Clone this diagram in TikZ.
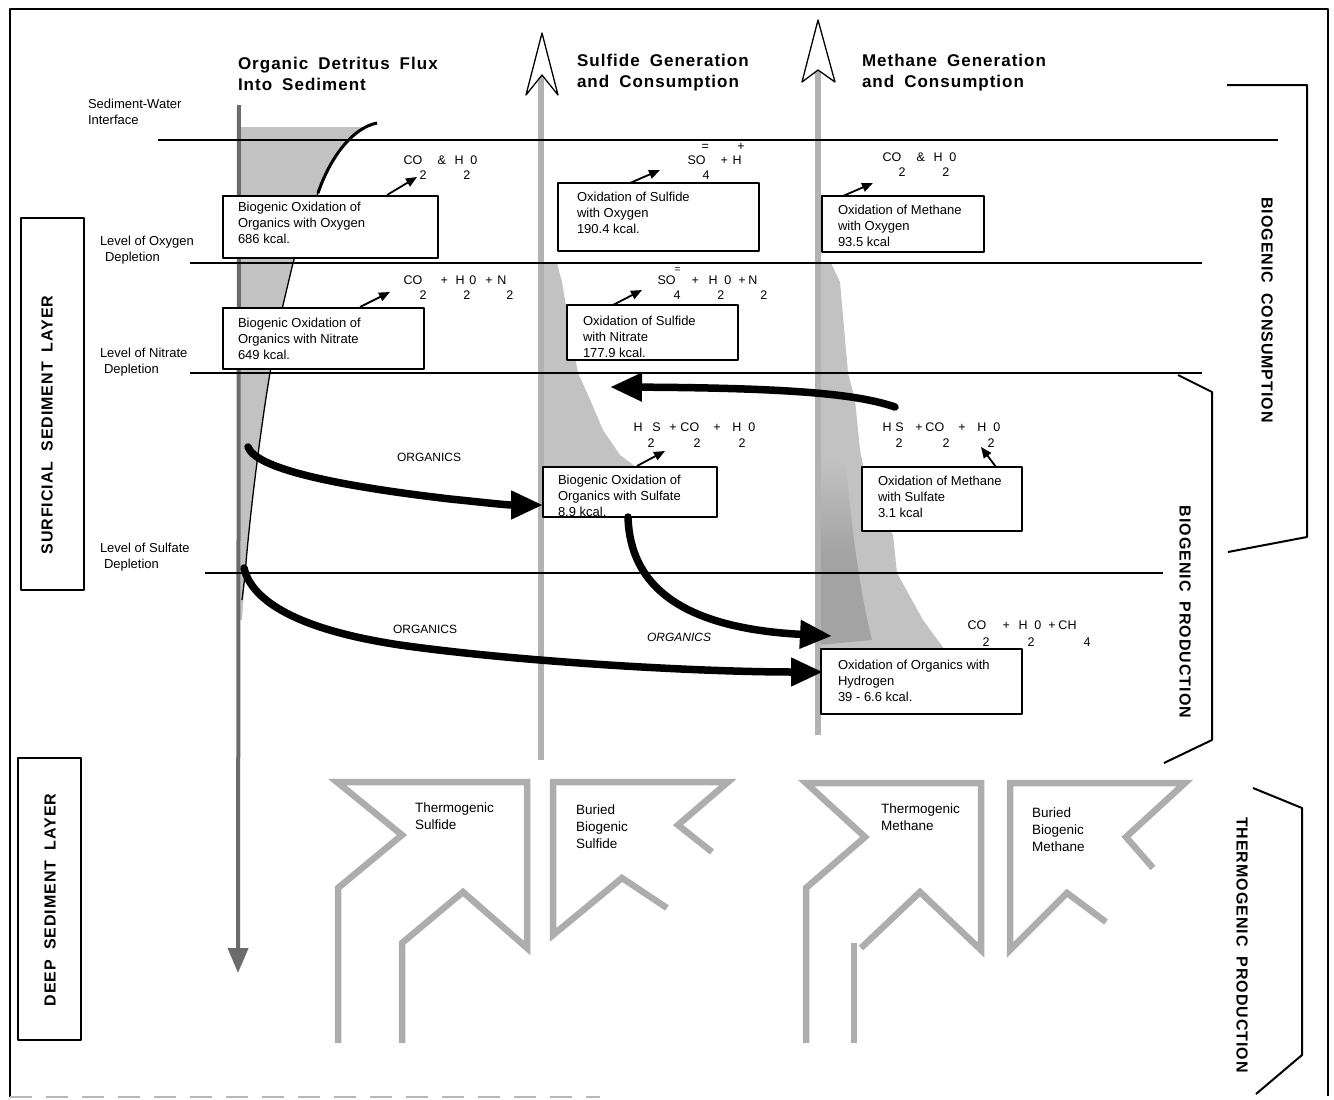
\documentclass[tikz,border=0pt]{standalone}
\usepackage{fontspec}
\setmainfont{Liberation Sans}
\newfontfamily\tfont[LetterSpace=6]{Liberation Sans}
\usetikzlibrary{arrows.meta}
\definecolor{shadec}{gray}{0.76}
\definecolor{barc}{gray}{0.70}
\definecolor{flagc}{gray}{0.68}
\definecolor{darkc}{gray}{0.42}
\definecolor{densec}{gray}{0.64}
\newcommand\tk[3]{\makebox[0pt][l]{\hspace*{#1pt}\raisebox{#2pt}{#3}}}
\newcommand\wg{\hspace{10pt}}
\begin{document}
\begin{tikzpicture}[x=1pt,y=-1pt,line join=round,
  every node/.style={inner sep=0pt,outer sep=0pt},
  lbl/.style={font=\fontsize{13}{16}\selectfont,align=left,anchor=north west},
  boxtxt/.style={font=\fontsize{13}{16}\selectfont,align=left,anchor=north west},
  flagtxt/.style={font=\fontsize{13.5}{17}\selectfont,align=left,anchor=north west},
  rbox/.style={draw=black,line width=1.4pt,fill=white,anchor=north west},
  sidebox/.style={draw=black,line width=2pt,anchor=north west},
  title/.style={font=\tfont\bfseries\fontsize{17}{21.5}\selectfont,align=left,anchor=north west},
  vtitle/.style={font=\tfont\bfseries\fontsize{16}{18}\selectfont},
  formula/.style={font=\fontsize{12.5}{14}\selectfont,anchor=base west},
  orgl/.style={font=\fontsize{12}{14}\selectfont,anchor=west},
  sarr/.style={line width=1.8pt,-{Triangle[length=11pt,width=9pt]}},
  big/.style={line width=7.5pt,line cap=round,-{Triangle[length=32pt,width=27pt]}},
  lev/.style={line width=1.3pt},
  brace/.style={line width=2pt},
  bar/.style={barc,line width=6pt},
  flag/.style={flagc,line width=6.5pt,line join=miter}]
\useasboundingbox (0,0) rectangle (1334,1100);

% ---------- shaded distributions ----------
\fill[shadec] (237,127) -- (368,127) .. controls (352,133) and (330,158) .. (318,193)
  -- (300,240) -- (293,263) -- (283,305) -- (270,373)
  .. controls (262,420) and (250,510) .. (245,575) -- (242,620) -- (237,620) -- cycle;
\fill[shadec] (541,263) -- (557,263) -- (562,282) -- (570,330) -- (578,373) -- (588,395)
  -- (603,430) -- (620,455) -- (640,470) -- (640,490) -- (541,490) -- cycle;
\fill[shadec] (818,263) -- (831,263) -- (840,282) -- (848,373) -- (855,400) -- (860,450)
  -- (866,480) -- (878,510) -- (893,535) -- (897,573) -- (923,620) -- (945,650)
  -- (945,680) -- (818,680) -- cycle;
\shade[top color=shadec,bottom color=densec,middle color=densec]
  (818,460) -- (846,460) .. controls (852,540) and (862,600) .. (872,640) -- (818,645) -- cycle;

% ---------- vertical bars with open arrowheads ----------
\coordinate (sbot) at (541,760); \coordinate (stop) at (541,75);
\coordinate (mbot) at (818,735); \coordinate (mtop) at (818,70);
\draw[bar] (sbot) -- (stop);
\draw[bar] (mbot) -- (mtop);
\filldraw[fill=white,line width=1.3pt] (542,33) -- (558,95) -- (542,75) -- (526,95) -- cycle;
\filldraw[fill=white,line width=1.3pt] (818,20) -- (835,82) -- (818,70) -- (802,82) -- cycle;

% ---------- organic detritus flux ----------
\coordinate (orgtop) at (239,105); \coordinate (orgbot) at (238,973);
\draw[darkc,line width=4pt,-{Triangle[length=25pt,width=20pt]}] (orgtop) -- (orgbot);
\draw[line width=3pt] (377,123) .. controls (352,128) and (330,158) .. (318,193);
\draw[line width=1.3pt] (318,193) -- (300,240) -- (293,263) -- (283,305) -- (270,373)
  .. controls (262,420) and (250,510) .. (245,575) -- (242,600);

% ---------- level lines ----------
\draw[line width=2.6pt] (158,140) -- (1278,140);
\draw[lev] (190,263) -- (1202,263);
\draw[lev] (190,373) -- (1202,373);
\draw[lev] (205,573) -- (1163,573);

% ---------- titles ----------
\node[title] (t-org) at (238,57) {Organic\wg Detritus\wg Flux\\Into\wg Sediment};
\node[title] (t-sul) at (577,54) {Sulfide\wg Generation\\and\wg Consumption};
\node[title] (t-met) at (862,54) {Methane\wg Generation\\and\wg Consumption};

% ---------- left labels ----------
\node[lbl] (l-swi) at (88,99.5) {Sediment-Water\\Interface};
\node[lbl] (l-oxy) at (100,236.5) {Level of Oxygen\\\hspace*{5pt}Depletion};
\node[lbl] (l-nit) at (100,348.5) {Level of Nitrate\\\hspace*{4pt}Depletion};
\node[lbl] (l-sul) at (100,543.5) {Level of Sulfate\\\hspace*{4pt}Depletion};

\node[sidebox,minimum width=63pt,minimum height=372pt] (surfbox) at (21,218) {};
\node[vtitle,rotate=90] (surf) at (47,425) {SURFICIAL\wg SEDIMENT\wg LAYER};
\node[sidebox,minimum width=63pt,minimum height=282pt] (deepbox) at (18,758) {};
\node[vtitle,rotate=90] (deep) at (50,900) {DEEP\wg SEDIMENT\wg LAYER};

% ---------- reaction boxes ----------
\node[rbox,minimum width=215pt,minimum height=62pt] (b1) at (223,196) {};
\node[boxtxt] (t1) at (238,202.5) {Biogenic Oxidation of\\Organics with Oxygen\\686 kcal.};
\node[rbox,minimum width=201pt,minimum height=68pt] (b2) at (558,183) {};
\node[boxtxt] (t2) at (577,192.5) {Oxidation of Sulfide\\with Oxygen\\190.4 kcal.};
\node[rbox,minimum width=162pt,minimum height=56pt] (b3) at (822,196) {};
\node[boxtxt] (t3) at (838,205.5) {Oxidation of Methane\\with Oxygen\\93.5 kcal};
\node[rbox,minimum width=201pt,minimum height=61pt] (b4) at (223,308) {};
\node[boxtxt] (t4) at (238,318.5) {Biogenic Oxidation of\\Organics with Nitrate\\649 kcal.};
\node[rbox,minimum width=171pt,minimum height=55pt] (b5) at (567,305) {};
\node[boxtxt] (t5) at (583,316.5) {Oxidation of Sulfide\\with Nitrate\\177.9 kcal.};
\node[rbox,minimum width=174pt,minimum height=50pt] (b6) at (543,467) {};
\node[boxtxt] (t6) at (558,475.5) {Biogenic Oxidation of\\Organics with Sulfate\\8.9 kcal.};
\node[rbox,minimum width=160pt,minimum height=64pt] (b7) at (862,467) {};
\node[boxtxt] (t7) at (878,476.5) {Oxidation of Methane\\with Sulfate\\3.1 kcal};
\node[rbox,minimum width=201pt,minimum height=65pt] (b8) at (821,649) {};
\node[boxtxt] (t8) at (838,660.5) {Oxidation of Organics with\\Hydrogen\\39 - 6.6 kcal.};

% ---------- formulas ----------
\node[formula] (f1) at (403,164.3) {\tk{0}{0}{CO}\tk{34}{0}{\&}\tk{51}{0}{H}\tk{67}{0}{0}\tk{16}{-15}{2}\tk{60}{-15}{2}};
\node[formula] (f2) at (687,164.3) {\tk{0}{0}{SO}\tk{33}{0}{+}\tk{45}{0}{H}\tk{14}{14}{=}\tk{50}{14}{+}\tk{15}{-15}{4}};
\node[formula] (f3) at (882,161.3) {\tk{0}{0}{CO}\tk{34}{0}{\&}\tk{51}{0}{H}\tk{67}{0}{0}\tk{16}{-15}{2}\tk{60}{-15}{2}};
\node[formula] (f4) at (403,284.3) {\tk{0}{0}{CO}\tk{37}{0}{+}\tk{52}{0}{H}\tk{66}{0}{0}\tk{82}{0}{+}\tk{94}{0}{N}\tk{16}{-15}{2}\tk{60}{-15}{2}\tk{103}{-15}{2}};
\node[formula] (f5) at (657,284.3) {\tk{0}{0}{SO}\tk{17}{12}{\fontsize{10}{10}\selectfont =}\tk{34}{0}{+}\tk{51}{0}{H}\tk{67}{0}{0}\tk{81}{0}{+}\tk{91}{0}{N}\tk{16}{-15}{4}\tk{60}{-15}{2}\tk{103}{-15}{2}};
\node[formula] (f6) at (633,431.3) {\tk{0}{0}{H}\tk{19}{0}{S}\tk{36}{0}{+}\tk{47}{0}{CO}\tk{80}{0}{+}\tk{99}{0}{H}\tk{115}{0}{0}\tk{14}{-16}{2}\tk{60}{-16}{2}\tk{105}{-16}{2}};
\node[formula] (f7) at (882,431.3) {\tk{0}{0}{H}\tk{13}{0}{S}\tk{33}{0}{+}\tk{43}{0}{CO}\tk{76}{0}{+}\tk{95}{0}{H}\tk{111}{0}{0}\tk{13}{-16}{2}\tk{60}{-16}{2}\tk{105}{-16}{2}};
\node[formula] (f8) at (967,629.3) {\tk{0}{0}{CO}\tk{35}{0}{+}\tk{51}{0}{H}\tk{67}{0}{0}\tk{81}{0}{+}\tk{91}{0}{CH}\tk{15}{-17}{2}\tk{60}{-17}{2}\tk{116}{-17}{4}};

% ---------- small product arrows ----------
\coordinate (a1s) at (387,195); \coordinate (a1e) at (417,177);
\coordinate (a2s) at (630,183); \coordinate (a2e) at (660,170);
\coordinate (a3s) at (843,196); \coordinate (a3e) at (873,183);
\coordinate (a4s) at (360,307); \coordinate (a4e) at (390,292);
\coordinate (a5s) at (613,305); \coordinate (a5e) at (642,290);
\coordinate (a6s) at (637,466); \coordinate (a6e) at (665,451);
\coordinate (a7s) at (996,467); \coordinate (a7e) at (981,447);
\draw[sarr] (a1s) -- (a1e);
\draw[sarr] (a2s) -- (a2e);
\draw[sarr] (a3s) -- (a3e);
\draw[sarr] (a4s) -- (a4e);
\draw[sarr] (a5s) -- (a5e);
\draw[sarr] (a6s) -- (a6e);
\draw[sarr] (a7s) -- (a7e);

% ---------- big organics arrows ----------
\coordinate (o1) at (248,447);
\coordinate (o2) at (244,568);
\coordinate (A3e) at (832,636);
\coordinate (A4s) at (895,407);
\coordinate (A4e) at (610,387);
\draw[big] (o1) .. controls (256,468) and (330,485) .. (450,499)
  .. controls (480,502) and (505,505) .. ([yshift=-13pt]b6.west);
\draw[big] (o2) .. controls (252,602) and (300,630) .. (400,645)
  .. controls (520,662) and (700,672) .. ([yshift=9.5pt,xshift=2pt]b8.west);
\draw[big] ([xshift=-2pt]b6.south) .. controls (630,585) and (680,628) .. (A3e);
\draw[big] (A4s) .. controls (860,395) and (800,388) .. (A4e);

\node[orgl] (org1) at (397,457) {ORGANICS};
\node[orgl] (org2) at (393,629) {ORGANICS};
\node[orgl,font=\fontsize{12}{14}\selectfont\itshape] (org3) at (647,637) {ORGANICS};

% ---------- right braces ----------
\draw[brace] (1227,85) -- (1307,85) -- (1307,537) -- (1228,552);
\draw[brace] (1178,375) -- (1212,392) -- (1212,740) -- (1164,763);
\draw[brace] (1253,788) -- (1302,808) -- (1302,1055) -- (1256,1094);
\node[vtitle,rotate=-90] (bc) at (1267,310) {BIOGENIC\wg CONSUMPTION};
\node[vtitle,rotate=-90] (bp) at (1185,612) {BIOGENIC\wg PRODUCTION};
\node[vtitle,rotate=-90] (tp) at (1242,945) {THERMOGENIC\wg PRODUCTION};

% ---------- deep source flags ----------
\draw[flag] (338,1043) -- (338,888) -- (402,835) -- (337,782) -- (527,782) -- (527,948)
  -- (463,892) -- (402,943) -- (402,1043);
\draw[flag] (667,908) -- (622,878) -- (553,935) -- (553,782) -- (728,782) -- (678,825) -- (712,852);
\draw[flag] (806,1043) -- (806,888) -- (865,837) -- (806,783) -- (981,783) -- (981,950)
  -- (920,892) -- (861,948);
\draw[flag] (854,943) -- (854,1043);
\draw[flag] (1106,922) -- (1067,893) -- (1010,950) -- (1010,783) -- (1185,783) -- (1126,837) -- (1153,868);
\node[flagtxt] (ts) at (415,802.5) {Thermogenic\\Sulfide};
\node[flagtxt] (bs) at (576,804.5) {Buried\\Biogenic\\Sulfide};
\node[flagtxt] (tm) at (881,803.5) {Thermogenic\\Methane};
\node[flagtxt] (bm) at (1032,807.5) {Buried\\Biogenic\\Methane};

% ---------- frame ----------
\draw[line width=1.6pt] (10,1097) -- (10,9) -- (1328,9) -- (1328,1096);
\draw[gray!55,line width=1.2pt,dash pattern=on 22pt off 14pt] (10,1097) -- (600,1097);
\end{tikzpicture}
\end{document}
